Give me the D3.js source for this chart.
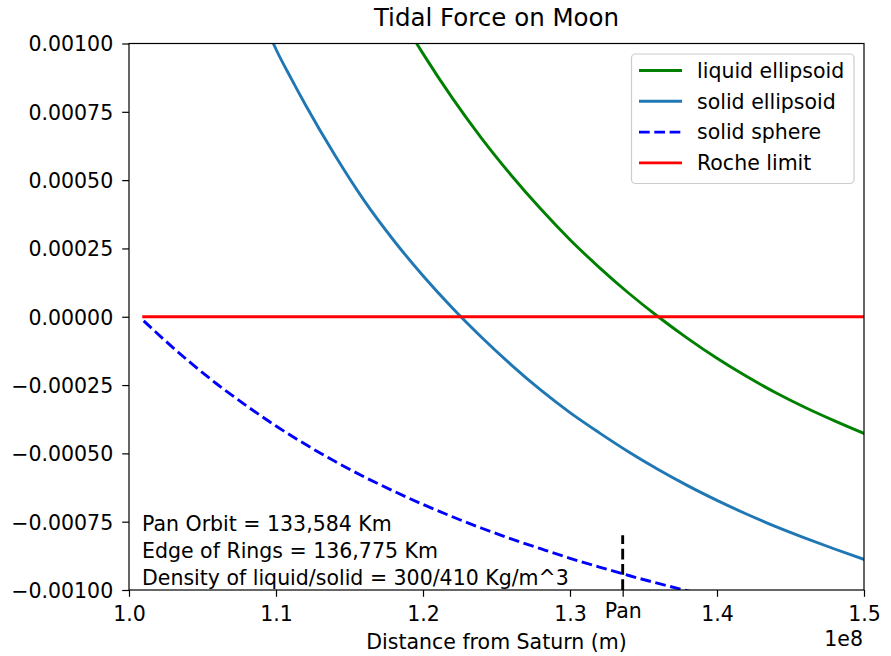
<!DOCTYPE html>
<html><head><meta charset="utf-8">
<script src="https://cdn.jsdelivr.net/npm/d3@7"></script>
<style>
body{margin:0;background:#fff}
text{font-family:"DejaVu Sans",sans-serif;fill:#000}
</style>
</head><body>
<svg id="chart" width="891" height="656"></svg>
<script>
// distances in units of 1e8 m, forces in units of 1e-3
const liquidX = [1.18, 1.1957, 1.20, 1.22, 1.24, 1.26, 1.28, 1.30, 1.32, 1.34, 1.36, 1.38, 1.40, 1.42, 1.44, 1.46, 1.48, 1.50];
const liquidY = [1.141, 1.000, 0.963, 0.800, 0.652, 0.518, 0.395, 0.282, 0.180, 0.086, 0.000, -0.079, -0.152, -0.218, -0.278, -0.332, -0.381, -0.427];

const solidX = [1.09, 1.0982, 1.10, 1.11, 1.12, 1.14, 1.16, 1.18, 1.20, 1.22, 1.24, 1.26, 1.28, 1.30, 1.32, 1.34, 1.36, 1.38, 1.40, 1.42, 1.44, 1.46, 1.48, 1.50];
const solidY = [1.087, 1.000, 0.979, 0.875, 0.776, 0.592, 0.425, 0.280, 0.150, 0.032, -0.076, -0.176, -0.268, -0.351, -0.425, -0.495, -0.559, -0.618, -0.672, -0.722, -0.768, -0.810, -0.850, -0.888];

const sphereX = [1.01, 1.02, 1.04, 1.06, 1.08, 1.10, 1.12, 1.14, 1.16, 1.18, 1.20, 1.22, 1.24, 1.26, 1.28, 1.30, 1.32, 1.34, 1.36, 1.38, 1.40];
const sphereY = [-0.015, -0.065, -0.160, -0.247, -0.326, -0.400, -0.467, -0.529, -0.586, -0.638, -0.687, -0.732, -0.774, -0.813, -0.849, -0.884, -0.916, -0.947, -0.976, -1.003, -1.028];

const rocheX = [1.01, 1.50];
const rocheY = [0, 0];

const panOrbit = 1.33584;
const panLineY = [-1.0, -0.80];

const xTicks = [1.0, 1.1, 1.2, 1.3, 1.4, 1.5];
const xTickLabels = ["1.0", "1.1", "1.2", "1.3", "1.4", "1.5"];
const yTicks = [1.0, 0.75, 0.5, 0.25, 0, -0.25, -0.5, -0.75, -1.0];
const yTickLabels = ["0.00100", "0.00075", "0.00050", "0.00025", "0.00000", "\u22120.00025", "\u22120.00050", "\u22120.00075", "\u22120.00100"];

const seriesNames = ["liquid ellipsoid", "solid ellipsoid", "solid sphere", "Roche limit"];
const seriesColors = ["#008000", "#1f77b4", "#0000ff", "#ff0000"];
const notes = ["Pan Orbit = 133,584 Km", "Edge of Rings = 136,775 Km", "Density of liquid/solid = 300/410 Kg/m^3"];

const svg = d3.select("#chart");
const L = 129, R = 864, T = 43.5, B = 590;
const FS = 20.5;
const x = d3.scaleLinear().domain([1.0, 1.5]).range([L, R]);
const y = d3.scaleLinear().domain([-1.0, 1.0]).range([B, T]);

svg.append("defs").append("clipPath").attr("id", "clip")
  .append("rect").attr("x", L).attr("y", T).attr("width", R - L).attr("height", B - T);

const lw = 2.9;
const g = svg.append("g").attr("clip-path", "url(#clip)");
const line = d3.line().x(d => x(d[0])).y(d => y(d[1])).curve(d3.curveMonotoneX);
const zip = (a, b) => a.map((v, i) => [v, b[i]]);

const series = [
  {xs: liquidX, ys: liquidY, dash: null},
  {xs: solidX, ys: solidY, dash: null},
  {xs: sphereX, ys: sphereY, dash: "10.7,4.6"},
  {xs: rocheX, ys: rocheY, dash: null}
];
series.forEach((s, i) => {
  g.append("path").attr("d", line(zip(s.xs, s.ys)))
    .attr("fill", "none").attr("stroke", seriesColors[i]).attr("stroke-width", lw)
    .attr("stroke-linecap", s.dash ? "butt" : "square")
    .attr("stroke-dasharray", s.dash);
});

// Pan marker
g.append("path").attr("d", d3.line().x(d => x(d[0])).y(d => y(d[1]))([[panOrbit, panLineY[0]], [panOrbit, panLineY[1]]]))
  .attr("fill", "none").attr("stroke", "#000").attr("stroke-width", lw)
  .attr("stroke-dasharray", "10.7,4.6");

// spines
svg.append("rect").attr("x", L).attr("y", T).attr("width", R - L).attr("height", B - T)
  .attr("fill", "none").attr("stroke", "#000").attr("stroke-width", 1.2);

// x axis
const xa = d3.axisBottom(x).tickValues(xTicks).tickSize(6.8).tickPadding(3)
  .tickFormat((d, i) => xTickLabels[i]);
const xg = svg.append("g").attr("transform", `translate(0,${B})`).call(xa);
xg.select(".domain").remove();
xg.selectAll(".tick line").attr("stroke", "#000").attr("stroke-width", 1.2);
xg.selectAll(".tick text").attr("font-size", FS).attr("y", 31).attr("dy", 0)
  .attr("font-family", "DejaVu Sans").attr("fill", "#000");

const pg = svg.append("g").attr("transform", `translate(0,${B})`)
  .call(d3.axisBottom(x).tickValues([panOrbit]).tickSize(6.8).tickFormat(() => "Pan"));
pg.select(".domain").remove();
pg.selectAll(".tick line").attr("stroke", "#000").attr("stroke-width", 1.2);
pg.selectAll(".tick text").attr("font-size", FS).attr("y", 28).attr("dy", 0)
  .attr("font-family", "DejaVu Sans").attr("fill", "#000");

// y axis
const ya = d3.axisLeft(y).tickValues(yTicks).tickSize(6.8).tickPadding(9)
  .tickFormat((d, i) => yTickLabels[i]);
const yg = svg.append("g").attr("transform", `translate(${L},0)`).call(ya);
yg.select(".domain").remove();
yg.selectAll(".tick line").attr("stroke", "#000").attr("stroke-width", 1.2);
yg.selectAll(".tick text").attr("font-size", FS).attr("dy", "0.36em")
  .attr("font-family", "DejaVu Sans").attr("fill", "#000");

// title & labels
svg.append("text").attr("x", (L + R) / 2).attr("y", 26).attr("text-anchor", "middle")
  .attr("font-size", 24.5).text("Tidal Force on Moon");
svg.append("text").attr("x", (L + R) / 2).attr("y", 649).attr("text-anchor", "middle")
  .attr("font-size", FS).text("Distance from Saturn (m)");
svg.append("text").attr("x", R - 1).attr("y", 646).attr("text-anchor", "end")
  .attr("font-size", FS).text("1e8");

// notes
const noteY = [530.5, 557.5, 585];
notes.forEach((t, i) => {
  svg.append("text").attr("x", 142).attr("y", noteY[i]).attr("font-size", FS).text(t);
});

// legend
const lg = svg.append("g");
lg.append("rect").attr("x", 631.5).attr("y", 54).attr("width", 222.5).attr("height", 129.5)
  .attr("rx", 4).attr("fill", "#fff").attr("fill-opacity", 0.8)
  .attr("stroke", "#cccccc").attr("stroke-width", 1.2);
seriesNames.forEach((name, i) => {
  const cy = 70.5 + i * 30.8;
  lg.append("line").attr("x1", 639).attr("x2", 682).attr("y1", cy).attr("y2", cy)
    .attr("stroke", seriesColors[i]).attr("stroke-width", lw)
    .attr("stroke-dasharray", i === 2 ? "10.7,4.6" : null);
  lg.append("text").attr("x", 697).attr("y", cy).attr("dy", "0.36em")
    .attr("font-size", FS).text(name);
});
</script>
</body></html>
